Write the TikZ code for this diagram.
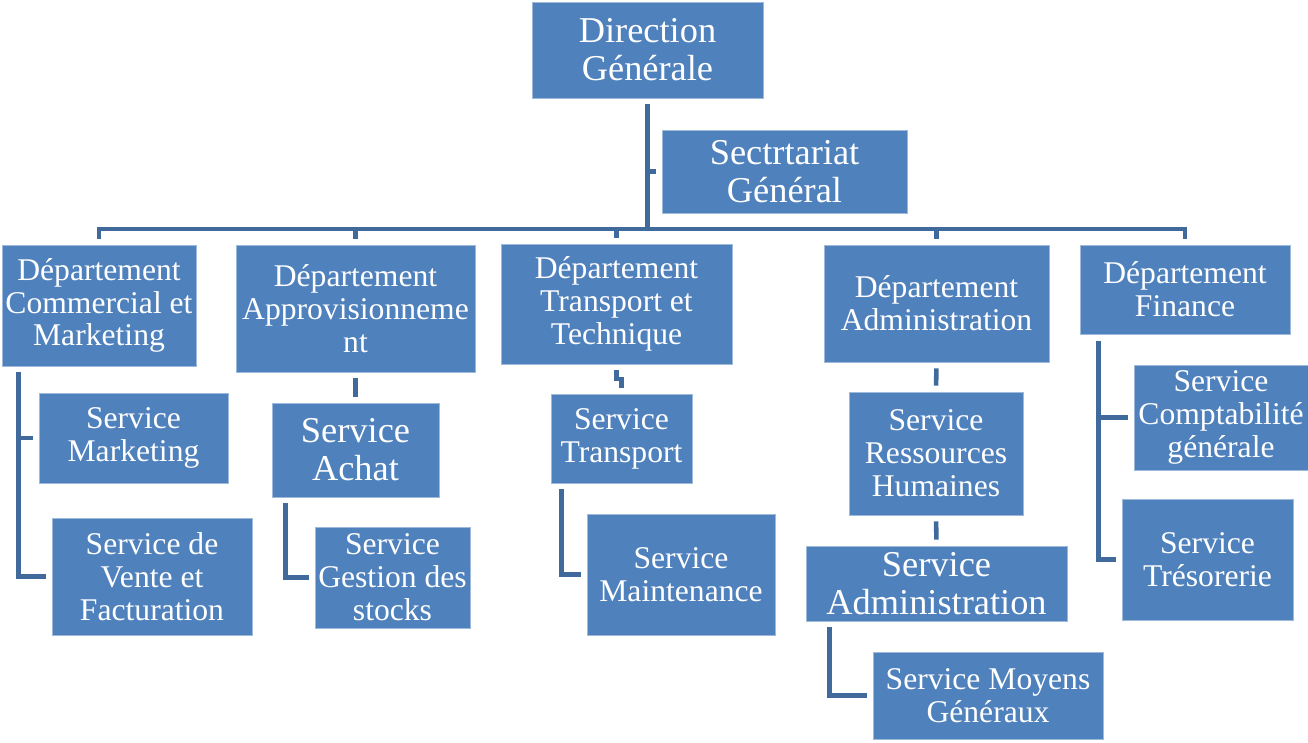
\documentclass[tikz,border=0pt]{standalone}
\usepackage{fontspec}
\setmainfont{Liberation Serif}
\usetikzlibrary{calc}

\definecolor{boxblue}{RGB}{79,129,189}
\definecolor{linkblue}{RGB}{65,106,156}

\begin{document}
\begin{tikzpicture}[x=0.02cm, y=-0.02cm,
  box/.style 2 args={rectangle, fill=boxblue, draw=boxblue!55!white, line width=0.5pt,
    text=white, align=center, inner sep=1pt,
    minimum width=#1*0.02cm, minimum height=#2*0.02cm,
    font=\fontsize{18}{18.7}\selectfont},
  big/.style={font=\fontsize{20.7}{21.5}\selectfont},
  link/.style={draw=linkblue, line width=2.6pt, shorten >=0.12cm},
  gapped/.style={shorten <=0.12cm}]
  \useasboundingbox (0,0) rectangle (1308,743);

  % top of the chart
  \node[box={231}{96}, big] (dg) at (647.5,50) {Direction\\Générale};
  \node[box={245}{83}, big] (sg) at (784.5,171.5) {Sectrtariat\\Général};

  % departments
  \node[box={194}{121}] (dcm) at (99,305.5) {Département\\Commercial et\\Marketing};
  \node[box={239}{127}] (dap) at (355.5,308.5) {Département\\Approvisionneme\\nt};
  \node[box={231}{120}] (dtt) at (616.5,304) {Département\\Transport et\\Technique};
  \node[box={225}{117}] (dad) at (936.5,303.5) {Département\\Administration};
  \node[box={210}{89}] (dfi) at (1185,289.5) {Département\\Finance};

  % services
  \node[box={189}{90}] (smk) at (133.5,438) {Service\\Marketing};
  \node[box={200}{117}] (svf) at (152,576.5) {Service de\\Vente et\\Facturation};
  \node[box={167}{94}, big] (sac) at (355.5,450) {Service\\Achat};
  \node[box={155}{101}] (sgs) at (392.5,577.5) {Service\\Gestion des\\stocks};
  \node[box={141}{89}] (str) at (621.5,438.5) {Service\\Transport};
  \node[box={188}{121}] (smn) at (681,574.5) {Service\\Maintenance};
  \node[box={174}{123}] (srh) at (936,453.5) {Service\\Ressources\\Humaines};
  \node[box={261}{75}, big] (sadm) at (936.5,583.5) {Service\\Administration};
  \node[box={230}{87}] (smg) at (988,695.5) {Service Moyens\\Généraux};
  \node[box={174}{105}] (scg) at (1221,417.5) {Service\\Comptabilité\\générale};
  \node[box={171}{121}] (stre) at (1207.5,559.5) {Service\\Trésorerie};

  % trunks for the side branches
  \coordinate (bus) at (0,229);
  \coordinate (t1) at ($(dcm.south west)+(17,6)$);
  \coordinate (t2) at ($(sac.south west)+(14,6)$);
  \coordinate (t3) at ($(str.south west)+(11,6)$);
  \coordinate (t4) at ($(sadm.south west)+(24,6)$);
  \coordinate (t5) at ($(dfi.south west)+(19,7)$);

  % connectors
  \draw[link] (dg.south |- bus) -- (dg.south);
  \draw[link] (dg.south |- sg.west) -- (sg.west);
  \draw[link, gapped] (dcm.north) -- (dcm.north |- bus) -- (dfi.north |- bus) -- (dfi.north);
  \foreach \d in {dap,dtt,dad}
    \draw[link] (\d.north |- bus) -- (\d.north);

  \draw[link] (t1) |- (svf.west);
  \draw[link] (t1 |- smk.west) -- (smk.west);
  \draw[link, gapped] (dap.south) -- (sac.north);
  \draw[link] (t2) |- (sgs.west);
  \draw[link, gapped] (dtt.south) |- ($(dtt.south)!.5!(str.north)$) -| (str.north);
  \draw[link] (t3) |- (smn.west);
  \draw[link, gapped] (dad.south) -- (srh.north);
  \draw[link, gapped] (srh.south) -- (sadm.north);
  \draw[link] (t4) |- (smg.west);
  \draw[link] (t5) |- (stre.west);
  \draw[link] (t5 |- scg.west) -- (scg.west);
\end{tikzpicture}
\end{document}
